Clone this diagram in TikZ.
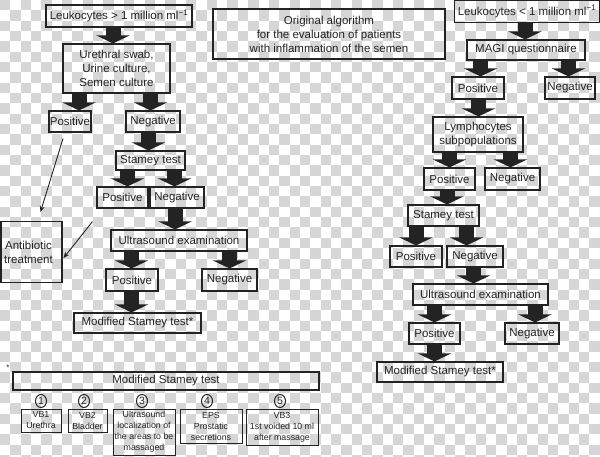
\documentclass[tikz,border=0pt]{standalone}
\usepackage{fontspec}
\setmainfont{Liberation Sans}
\usetikzlibrary{arrows.meta,shapes.geometric}
\definecolor{ink}{RGB}{35,35,35}
\definecolor{chk}{RGB}{214,214,214}
\begin{document}
\begin{tikzpicture}[x=1pt,y=-1pt,
  wh/.style 2 args={minimum width=#1pt, minimum height=#2pt},
  box/.style={draw=ink, line width=1.1pt, inner sep=0pt, align=center, text=ink, font=\fontsize{11.5}{14}\selectfont},
  smallbox/.style={draw=ink, line width=0.9pt, inner sep=0pt, align=center, text=ink, font=\fontsize{8.8}{11}\selectfont},
  blockarrow/.style={draw=ink, line width=15pt, -{Triangle[width=33pt,length=8pt]}},
  thinarrow/.style={draw=ink, line width=0.9pt, -{Stealth[length=6pt,width=5pt]}},
  num/.style={ellipse, draw=ink, line width=1pt, minimum width=11pt, minimum height=13pt, inner sep=0pt, text=ink, font=\fontsize{10.5}{10.5}\selectfont}]
\useasboundingbox (0,0) rectangle (600,456);
% transparent-background checkerboard
\begin{scope}
\clip (0,0) rectangle (600,456);
\fill[white] (0,0) rectangle (600,456);
\foreach \j in {0,...,44}{
  \pgfmathtruncatemacro\off{mod(\j,2)}
  \foreach \i in {0,2,...,58}{
    \fill[chk] ({(\i+\off)*10.34},{\j*10.34}) rectangle +(10.34,10.34);
  }
}
\end{scope}
% ---------- left tree ----------
\node[box, wh={146}{22}] (L1) at (119,16) {Leukocytes > 1 million ml\textsuperscript{−1}};
\node[box, wh={107}{49}] (L2) at (116.5,68.5) {Urethral swab,\\Urine culture,\\Semen culture};
\node[box, wh={42}{21}] (L3) at (70,121.5) {Positive};
\node[box, wh={54}{21}] (L4) at (153,121.5) {Negative};
\node[box, wh={69}{19}] (L5) at (150.5,160.5) {Stamey test};
\node[box, wh={51}{21}] (L6) at (122.5,197.5) {Positive};
\node[box, wh={54}{21}] (L7) at (177,197.5) {Negative};
\node[box, wh={136}{21}] (L8) at (179,240.5) {Ultrasound examination};
\node[box, wh={52}{22}] (L9) at (132,280) {Positive};
\node[box, wh={55}{22}] (L10) at (229.5,280) {Negative};
\node[box, wh={127}{20}] (L11) at (137.5,323) {Modified Stamey test*};
\node[box, wh={61}{61}] (Anti) at (31.5,252) {Antibiotic\hspace*{6pt}\\treatment\hspace*{6pt}};
% ---------- title ----------
\node[box, wh={232}{50}] (T) at (329,34) {Original algorithm\\for the evaluation of patients\\with inflammation of the semen};
% ---------- right tree ----------
\node[box, wh={145}{22}] (R1) at (527,11.5) {Leukocytes < 1 million ml\textsuperscript{−1}};
\node[box, wh={118}{20}] (R2) at (526,50) {MAGI questionnaire};
\node[box, wh={52}{22}] (R3) at (478,88) {Positive};
\node[box, wh={50}{22}] (R4) at (570,88) {Negative};
\node[box, wh={90}{35}] (R5) at (478,134.5) {Lymphocytes\\subpopulations};
\node[box, wh={51}{22}] (R6) at (449.5,179) {Positive};
\node[box, wh={55}{22}] (R7) at (512.5,179) {Negative};
\node[box, wh={71}{21}] (R8) at (443.5,215.5) {Stamey test};
\node[box, wh={52}{21}] (R9) at (416,256.5) {Positive};
\node[box, wh={56}{21}] (R10) at (475,256.5) {Negative};
\node[box, wh={135}{21}] (R11) at (480.5,294.5) {Ultrasound examination};
\node[box, wh={51}{21}] (R12) at (434.5,333.5) {Positive};
\node[box, wh={54}{21}] (R13) at (532,333.5) {Negative};
\node[box, wh={126}{20}] (R14) at (440,372) {Modified Stamey test*};
% ---------- bottom legend ----------
\node[text=ink, inner sep=0pt, font=\fontsize{8}{8}\selectfont] (star) at (8,368) {*};
\node[box, wh={306}{18}] (B0) at (166,381) {Modified Stamey test};
\node[num] (C1) at (41,401) {1};
\node[num] (C2) at (84,401) {2};
\node[num] (C3) at (142,401) {3};
\node[num] (C4) at (207,401) {4};
\node[num] (C5) at (280,401) {5};
\node[smallbox, wh={40}{23}] (B1) at (41,420.5) {VB1\\Urethra};
\node[smallbox, wh={39}{23}] (B2) at (87.5,420.5) {VB2\\Bladder};
\node[smallbox, wh={62}{46}] (B3) at (144,432) {Ultrasound\\localization of\\the areas to be\\massaged};
\node[smallbox, wh={62}{34}] (B4) at (211,426) {EPS\\Prostatic\\secretions};
\node[smallbox, wh={72}{36}] (B5) at (282,427) {VB3\\1st voided 10 ml\\after massage};
% ---------- arrow columns ----------
\coordinate (a1) at (113,0);
\coordinate (a2) at (79,0);
\coordinate (a3) at (150.5,0);
\coordinate (a4) at (148.5,0);
\coordinate (a5) at (127.5,0);
\coordinate (a6) at (174.5,0);
\coordinate (a7) at (175,0);
\coordinate (a8) at (131.5,0);
\coordinate (a9) at (229.5,0);
\coordinate (b1) at (525,0);
\coordinate (b2) at (480.5,0);
\coordinate (b3) at (568.5,0);
\coordinate (b4) at (478.5,0);
\coordinate (b5) at (449.5,0);
\coordinate (b6) at (510.5,0);
\coordinate (b7) at (447,0);
\coordinate (b8) at (416,0);
\coordinate (b9) at (466.5,0);
\coordinate (b10) at (473.5,0);
\coordinate (b11) at (434.5,0);
\coordinate (b12) at (535,0);
% ---------- block arrows, left ----------
\draw[blockarrow] (L1.south -| a1) -- (L2.north -| a1);
\draw[blockarrow] (L2.south -| a2) -- (L3.north -| a2);
\draw[blockarrow] (L2.south -| a3) -- (L4.north -| a3);
\draw[blockarrow] (L4.south -| a4) -- (L5.north -| a4);
\draw[blockarrow] (L5.south -| a5) -- (L6.north -| a5);
\draw[blockarrow] (L5.south -| a6) -- (L7.north -| a6);
\draw[blockarrow] (L7.south -| a7) -- (L8.north -| a7);
\draw[blockarrow] (L8.south -| a8) -- (L9.north -| a8);
\draw[blockarrow] (L8.south -| a9) -- (L10.north -| a9);
\draw[blockarrow] (L9.south -| a8) -- (L11.north -| a8);
% ---------- block arrows, right ----------
\draw[blockarrow] (R1.south -| b1) -- (R2.north -| b1);
\draw[blockarrow] (R2.south -| b2) -- (R3.north -| b2);
\draw[blockarrow] (R2.south -| b3) -- (R4.north -| b3);
\draw[blockarrow] (R3.south -| b4) -- (R5.north -| b4);
\draw[blockarrow] (R5.south -| b5) -- (R6.north -| b5);
\draw[blockarrow] (R5.south -| b6) -- (R7.north -| b6);
\draw[blockarrow] (R6.south -| b7) -- (R8.north -| b7);
\draw[blockarrow] (R8.south -| b8) -- (R9.north -| b8);
\draw[blockarrow] (R8.south -| b9) -- (R10.north -| b9);
\draw[blockarrow] (R10.south -| b10) -- (R11.north -| b10);
\draw[blockarrow] (R11.south -| b11) -- (R12.north -| b11);
\draw[blockarrow] (R11.south -| b12) -- (R13.north -| b12);
\draw[blockarrow] (R12.south -| b11) -- (R14.north -| b11);
% ---------- thin arrows ----------
\draw[thinarrow] ([shift={(-7,6)}]L3.south) -- ([shift={(9,-9)}]Anti.north);
\draw[thinarrow] ([shift={(-4,13)}]L6.south west) -- ([shift={(1,6)}]Anti.east);
\end{tikzpicture}
\end{document}
